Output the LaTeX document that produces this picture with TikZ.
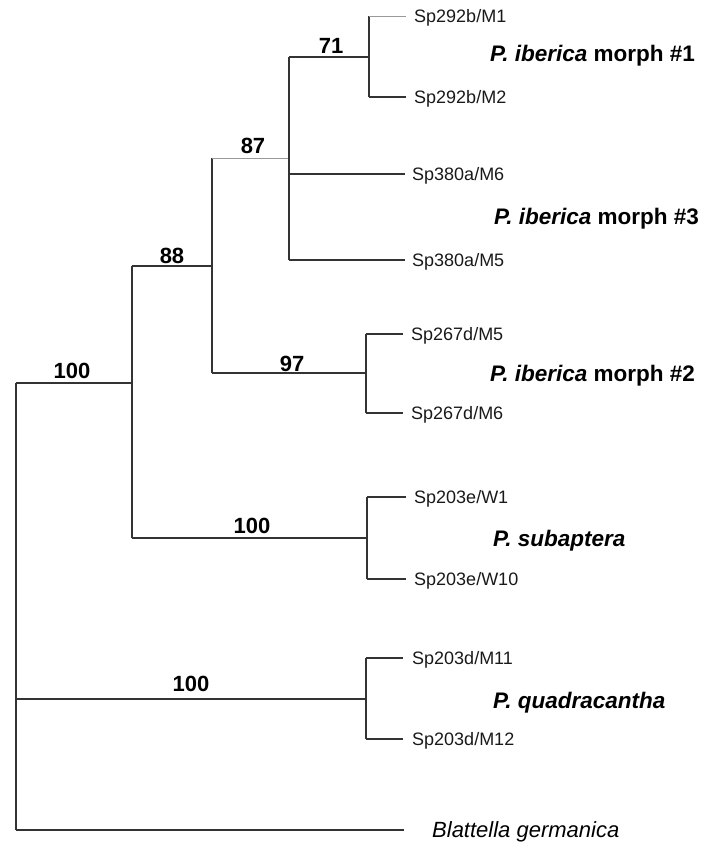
\documentclass[tikz,border=0pt]{standalone}
\usepackage{fontspec}
\setmainfont{Liberation Sans}
\begin{document}
\begin{tikzpicture}[x=1pt,y=-1pt,
  br/.style={draw=black!80, line width=1.3pt},
  lt/.style={draw=black!40, line width=0.9pt},
  bs/.style={font=\fontsize{22}{22}\selectfont\bfseries, anchor=base, inner sep=0pt},
  tiplab/.style={font=\fontsize{18}{18}\selectfont, anchor=west, inner sep=0pt, text height=12.9pt, text depth=0pt, text=black!90},
  sp/.style={font=\fontsize{22.5}{22.5}\selectfont\bfseries, anchor=west, inner sep=0pt, text height=16.1pt, text depth=0pt},
  outg/.style={font=\fontsize{22}{22}\selectfont\itshape, anchor=west, inner sep=0pt, text height=15.8pt, text depth=0pt},
]
\useasboundingbox (0,0) rectangle (706,843);

% internal node coordinates
\coordinate (rootA) at (16,383);
\coordinate (rootQ) at (16,699);
\coordinate (rootB) at (16,830);
\coordinate (igM) at (132,383);
\coordinate (igT) at (132,266);
\coordinate (igB) at (132,538);
\coordinate (n88T) at (212,158);
\coordinate (n88M) at (212,266);
\coordinate (n88B) at (212,373);
\coordinate (n87T) at (289,57);
\coordinate (n87M) at (289,158);
\coordinate (n87A) at (289,174);
\coordinate (n87B) at (289,260);
\coordinate (n71T) at (369,16);
\coordinate (n71M) at (369,57);
\coordinate (n71B) at (369,97);
\coordinate (n97T) at (366,334);
\coordinate (n97M) at (366,373);
\coordinate (n97B) at (366,413);
\coordinate (nsT) at (367,497);
\coordinate (nsM) at (367,538);
\coordinate (nsB) at (367,579);
\coordinate (nqT) at (366,658);
\coordinate (nqM) at (366,699);
\coordinate (nqB) at (366,739);

% tip labels
\node[tiplab] (t1) at (414,16) {Sp292b/M1};
\node[tiplab] (t2) at (414,97) {Sp292b/M2};
\node[tiplab] (t3) at (412,174) {Sp380a/M6};
\node[tiplab] (t4) at (412,260) {Sp380a/M5};
\node[tiplab] (t5) at (411,334) {Sp267d/M5};
\node[tiplab] (t6) at (411,413) {Sp267d/M6};
\node[tiplab] (t7) at (414,497) {Sp203e/W1};
\node[tiplab] (t8) at (414,579) {Sp203e/W10};
\node[tiplab] (t9) at (412,658) {Sp203d/M11};
\node[tiplab] (t10) at (412,739) {Sp203d/M12};
\node[outg] (t11) at (432,830) {Blattella germanica};

% species labels
\node[sp] (s1) at (490,53) {\itshape P. iberica\upshape\ morph \#1};
\node[sp] (s3) at (494,216) {\itshape P. iberica\upshape\ morph \#3};
\node[sp] (s2) at (490,373) {\itshape P. iberica\upshape\ morph \#2};
\node[sp] (s4) at (493,538) {\itshape P. subaptera};
\node[sp] (s5) at (493,700) {\itshape P. quadracantha};

% branches
\draw[br] (rootA) -- (rootB);
\draw[br] (rootA) -- (igM);
\draw[br] (igT) -- (igB);
\draw[br] (igT) -- (n88M);
\draw[br] (n88T) -- (n88B);
\draw[lt] (n88T) -- (n87M);
\draw[br] (n87T) -- (n87B);
\draw[br] (n87T) -- (n71M);
\draw[br] (n71T) -- (n71B);
\draw[lt] (n71T) -- ([xshift=-8pt]t1.west);
\draw[br] (n71B) -- ([xshift=-8pt]t2.west);
\draw[br] (n87A) -- ([xshift=-7pt]t3.west);
\draw[br] (n87B) -- ([xshift=-7pt]t4.west);
\draw[br] (n88B) -- (n97M);
\draw[br] (n97T) -- (n97B);
\draw[br] (n97T) -- ([xshift=-8pt]t5.west);
\draw[br] (n97B) -- ([xshift=-8pt]t6.west);
\draw[br] (igB) -- (nsM);
\draw[br] (nsT) -- (nsB);
\draw[br] (nsT) -- ([xshift=-8pt]t7.west);
\draw[br] (nsB) -- ([xshift=-8pt]t8.west);
\draw[br] (rootQ) -- (nqM);
\draw[br] (nqT) -- (nqB);
\draw[br] (nqT) -- ([xshift=-9pt]t9.west);
\draw[br] (nqB) -- ([xshift=-9pt]t10.west);
\draw[br] (rootB) -- ([xshift=-28pt]t11.west);

% support values
\node[bs] (b1) at (72,378) {100};
\node[bs] (b2) at (172,263) {88};
\node[bs] (b3) at (253,153) {87};
\node[bs] (b4) at (331,53) {71};
\node[bs] (b5) at (292,371) {97};
\node[bs] (b6) at (252,533) {100};
\node[bs] (b7) at (191,691) {100};
\end{tikzpicture}
\end{document}
